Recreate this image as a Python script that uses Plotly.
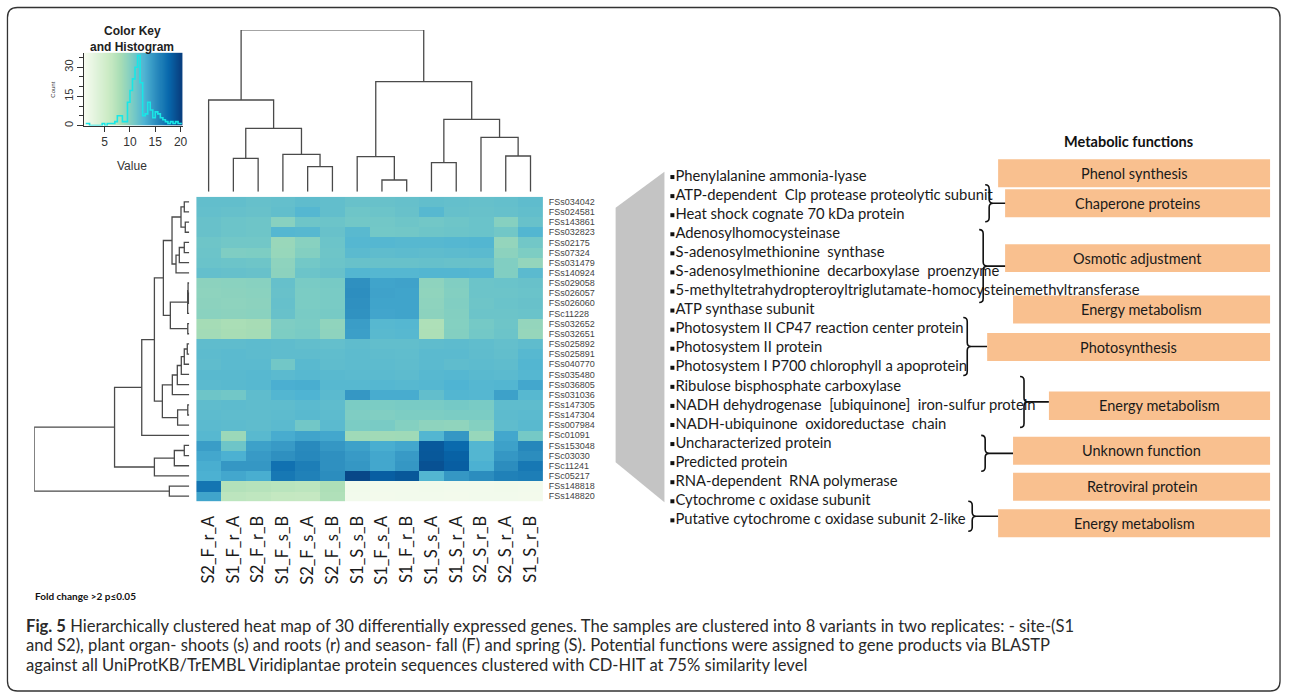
import plotly.graph_objects as go

W, H = 1292, 695

# ---------------- data ----------------
samples = ["S2_F_r_A", "S1_F_r_A", "S2_F_r_B", "S1_F_s_B", "S2_F_s_A", "S2_F_s_B", "S1_S_s_B",
           "S1_F_s_A", "S1_F_r_B", "S1_S_s_A", "S1_S_r_A", "S2_S_r_B", "S2_S_r_A", "S1_S_r_B"]

genes = ["FSs034042", "FSs024581", "FSs143861", "FSs032823", "FSs02175", "FSs07324", "FSs031479",
         "FSs140924", "FSs029058", "FSs026057", "FSs026060", "FSc11228", "FSs032652", "FSs032651",
         "FSs025892", "FSs025891", "FSs040770", "FSs035480", "FSs036805", "FSs031036", "FSs147305",
         "FSs147304", "FSs007984", "FSc01091", "FSs153048", "FSc03030", "FSc11241", "FSc05217",
         "FSs148818", "FSs148820"]

values = [
    [11.8, 11.8, 11.6, 11.7, 12.0, 11.8, 11.5, 11.5, 11.6, 11.8, 11.7, 11.6, 11.7, 12.0],
    [11.7, 11.6, 11.5, 11.8, 12.5, 11.8, 11.2, 11.3, 11.5, 12.4, 11.6, 11.5, 11.6, 11.8],
    [11.5, 11.3, 11.2, 9.8, 11.2, 11.3, 11.0, 11.0, 11.2, 11.0, 11.2, 11.4, 9.9, 11.5],
    [11.5, 11.3, 11.2, 12.5, 12.4, 11.5, 12.3, 10.9, 11.0, 11.2, 11.3, 11.4, 11.0, 12.6],
    [11.2, 11.0, 11.0, 8.9, 9.8, 11.3, 12.5, 12.5, 12.4, 12.4, 12.5, 12.6, 9.2, 11.0],
    [11.3, 10.3, 10.4, 9.0, 10.1, 11.2, 12.2, 12.0, 12.1, 12.0, 12.1, 12.2, 9.6, 10.4],
    [11.4, 11.3, 11.2, 9.5, 10.9, 11.3, 11.5, 11.5, 11.5, 11.6, 11.5, 11.5, 10.2, 9.2],
    [11.7, 11.6, 11.5, 9.6, 11.3, 11.5, 12.6, 12.5, 12.5, 12.6, 12.6, 12.5, 10.2, 12.2],
    [9.6, 9.7, 9.8, 11.6, 10.6, 10.7, 15.0, 13.8, 13.9, 9.5, 10.2, 11.3, 11.4, 11.5],
    [9.5, 9.6, 9.7, 11.5, 10.5, 10.6, 15.1, 13.9, 13.8, 9.4, 10.1, 11.3, 11.3, 11.4],
    [9.6, 9.5, 9.6, 11.6, 10.5, 10.6, 15.0, 13.8, 13.8, 9.5, 10.2, 11.2, 11.4, 11.5],
    [9.7, 9.6, 9.7, 11.5, 10.6, 10.7, 14.9, 13.7, 13.8, 9.6, 10.1, 11.3, 11.3, 11.4],
    [8.3, 8.0, 8.2, 10.3, 10.5, 9.4, 14.2, 12.4, 12.5, 7.7, 10.0, 10.8, 11.2, 9.2],
    [8.4, 8.1, 8.3, 10.4, 10.6, 9.5, 14.1, 12.3, 12.4, 7.8, 10.1, 10.9, 11.3, 9.1],
    [12.0, 12.0, 12.1, 12.0, 11.8, 11.7, 12.0, 11.8, 11.8, 12.0, 12.1, 11.9, 11.7, 12.0],
    [12.1, 12.2, 12.1, 12.0, 12.0, 11.9, 12.1, 12.0, 11.9, 12.2, 12.2, 12.0, 11.8, 12.4],
    [12.0, 12.2, 12.2, 11.0, 12.3, 12.0, 12.1, 12.1, 12.0, 12.2, 12.0, 12.1, 12.0, 12.6],
    [12.3, 12.3, 12.4, 12.2, 12.4, 12.3, 12.2, 12.2, 12.1, 12.4, 12.5, 12.3, 12.2, 12.5],
    [12.2, 12.3, 12.4, 13.1, 13.2, 12.4, 12.4, 12.5, 12.4, 12.5, 12.8, 12.5, 12.6, 13.6],
    [11.2, 11.0, 12.0, 12.6, 12.8, 12.2, 14.6, 13.3, 13.3, 11.8, 12.6, 12.5, 14.0, 12.4],
    [12.0, 12.1, 12.0, 12.0, 12.2, 12.0, 10.5, 10.5, 10.6, 10.6, 10.8, 10.6, 12.0, 12.0],
    [12.1, 12.0, 12.0, 12.1, 12.3, 12.1, 10.3, 10.2, 10.4, 10.4, 10.5, 10.5, 12.1, 12.2],
    [12.2, 12.1, 12.0, 12.2, 11.0, 12.2, 10.5, 10.6, 10.0, 9.5, 9.4, 10.0, 12.0, 12.3],
    [12.4, 8.8, 12.3, 13.3, 13.8, 13.6, 8.6, 8.5, 8.6, 12.6, 14.6, 9.0, 13.6, 10.8],
    [14.2, 11.2, 14.0, 14.4, 15.4, 14.6, 14.0, 13.2, 13.6, 18.5, 17.5, 12.6, 14.0, 15.6],
    [13.6, 13.0, 14.4, 15.0, 15.5, 15.0, 14.4, 13.6, 14.4, 18.6, 18.0, 12.6, 14.6, 15.2],
    [13.2, 14.6, 14.6, 17.0, 16.2, 15.0, 14.6, 13.6, 14.6, 19.0, 18.2, 13.0, 15.2, 16.6],
    [13.0, 13.6, 13.2, 16.6, 16.0, 15.2, 19.6, 18.2, 18.6, 12.6, 14.6, 15.2, 16.0, 16.2],
    [16.8, 7.4, 7.2, 7.0, 6.8, 7.8, 1.6, 1.5, 1.5, 1.6, 1.5, 1.5, 1.6, 1.5],
    [13.8, 6.8, 6.6, 6.3, 6.2, 7.6, 1.5, 1.4, 1.5, 1.5, 1.4, 1.5, 1.5, 1.4],
]

# hclust-style merges: (left, right, height); negative = leaf (1-based), positive = earlier merge
col_merges = [(-5, -6, 25.0), (-8, -9, 11.7), (-13, -14, 35.7), (-10, -11, 29.0), (-2, -3, 33.4),
              (-4, 1, 37.4), (-7, 2, 35.0), (-12, 3, 54.4), (5, 6, 63.4), (4, 8, 72.4),
              (-1, 9, 91.7), (7, 10, 110.0), (11, 12, 161.7)]

row_merges = [(-1, -2, 5.0), (-3, -4, 4.0), (1, 2, 8.3), (-5, -6, 5.0), (4, -7, 10.0), (5, -8, 13.3),
              (3, 6, 17.3), (-10, -11, 0.8), (-9, 8, 1.2), (9, -12, 1.6), (-13, -14, 1.5),
              (10, 11, 19.0), (7, 12, 26.0), (-15, -16, 2.0), (14, -17, 5.0), (15, -18, 8.0),
              (16, -19, 12.0), (17, -20, 17.0), (-21, -22, 1.5), (19, -23, 11.7), (18, 20, 27.0),
              (13, 21, 35.0), (22, -24, 47.7), (-25, -26, 5.0), (24, -27, 15.0), (25, -28, 35.0),
              (23, 26, 75.0), (-29, -30, 20.0), (27, 28, 155.7)]

hist_bins = [1.25, 1.75, 2.25, 2.75, 3.25, 3.75, 4.25, 4.75, 5.25, 5.75, 6.25, 6.75, 7.25, 7.75,
             8.25, 8.75, 9.25, 9.75, 10.25, 10.75, 11.25, 11.75, 12.25, 12.75, 13.25, 13.75, 14.25,
             14.75, 15.25, 15.75, 16.25, 16.75, 17.25, 17.75, 18.25, 18.75, 19.25, 19.75, 20.25]
hist_counts = [1, 1, 0, 0, 0, 0, 0, 1, 0, 1, 1, 1, 2, 5, 5, 2, 2, 12, 18, 24, 30, 36, 22, 5, 6, 12,
               8, 4, 7, 6, 4, 3, 2, 1, 2, 1, 2, 1, 1]

gene_products = [
    "Phenylalanine ammonia-lyase",
    "ATP-dependent  Clp protease proteolytic subunit",
    "Heat shock cognate 70 kDa protein",
    "Adenosylhomocysteinase",
    "S-adenosylmethionine  synthase",
    "S-adenosylmethionine  decarboxylase  proenzyme",
    "5-methyltetrahydropteroyltriglutamate-homocysteinemethyltransferase",
    "ATP synthase subunit",
    "Photosystem II CP47 reaction center protein",
    "Photosystem II protein",
    "Photosystem I P700 chlorophyll a apoprotein",
    "Ribulose bisphosphate carboxylase",
    "NADH dehydrogenase  [ubiquinone]  iron-sulfur protein",
    "NADH-ubiquinone  oxidoreductase  chain",
    "Uncharacterized protein",
    "Predicted protein",
    "RNA-dependent  RNA polymerase",
    "Cytochrome c oxidase subunit",
    "Putative cytochrome c oxidase subunit 2-like",
]

function_labels = ["Phenol synthesis", "Chaperone proteins", "Osmotic adjustment", "Energy metabolism",
                   "Photosynthesis", "Energy metabolism", "Unknown function", "Retroviral protein",
                   "Energy metabolism"]

# ---------------- layout geometry (pixels) ----------------
box_geom = [(1002, 159.5, 187.5), (1009, 189.5, 217.5), (1009, 244.5, 272.5), (1017, 296, 324),
            (991, 333.5, 361.5), (1053, 392, 420.5), (1017, 437.5, 465.5), (1017, 473.5, 501.5),
            (1002, 510, 538)]
box_right = 1275
brace_geom = [(989, 185, 222, 1010), (983, 230, 303, 1010), (967, 318, 376, 991),
              (1024, 377, 428, 1053), (985, 436, 472, 1017), (972, 502, 532, 1002)]

HM_X0, HM_X1, HM_Y0, HM_Y1 = 197, 545, 197, 502
LIST_X, LIST_Y0, LIST_DY = 681, 177.3, 19.1

def fx(x):
    return x / W

def fy(y):
    return 1 - y / H

fig = go.Figure()

# ---- heatmap ----
fig.add_trace(go.Heatmap(z=values, x=samples, y=genes, colorscale="GnBu", zmin=1, zmax=20,
                         showscale=False, xaxis="x", yaxis="y", hoverinfo="x+y+z"))

# ---- dendrograms ----
def dendro(merges):
    nodes = {}
    xs, ys = [], []

    def get(i):
        if i < 0:
            return (-i - 1, 0.0)
        return nodes[i]

    for k, (a, b, h) in enumerate(merges, start=1):
        pa, ha = get(a)
        pb, hb = get(b)
        xs += [pa, pa, pb, pb, None]
        ys += [ha, h, h, hb, None]
        nodes[k] = ((pa + pb) / 2, h)
    return xs, ys

cx, cy = dendro(col_merges)
fig.add_trace(go.Scatter(x=cx, y=cy, mode="lines", line=dict(color="#4a4a4a", width=1.3),
                         xaxis="x2", yaxis="y2", hoverinfo="skip", showlegend=False))
rp, rh = dendro(row_merges)
fig.add_trace(go.Scatter(x=rh, y=rp, mode="lines", line=dict(color="#4a4a4a", width=1.3),
                         xaxis="x3", yaxis="y3", hoverinfo="skip", showlegend=False))

# ---- color key ----
key_x = [0.9 + i * 0.1 for i in range(196)]
fig.add_trace(go.Heatmap(z=[key_x], x=key_x, y=[0, 37.5], colorscale="GnBu", zmin=1, zmax=20,
                         showscale=False, xaxis="x4", yaxis="y4", hoverinfo="skip"))
fig.add_trace(go.Scatter(x=hist_bins, y=hist_counts, mode="lines", line=dict(color="#19e6e6", width=1.6, shape="hvh"),
                         xaxis="x4", yaxis="y4", hoverinfo="skip", showlegend=False))

# ---- gene product list (pixel overlay axis) ----
list_y = [LIST_Y0 + i * LIST_DY for i in range(len(gene_products))]
fig.add_trace(go.Scatter(x=[LIST_X - 6] * len(gene_products), y=list_y, mode="markers",
                         marker=dict(symbol="square", size=4, color="#111"),
                         xaxis="x5", yaxis="y5", hoverinfo="skip", showlegend=False))
fig.add_trace(go.Scatter(x=[LIST_X - 3] * len(gene_products), y=list_y, mode="text", text=gene_products,
                         textposition="middle right",
                         textfont=dict(family="Lato, Open Sans, sans-serif", size=14.8, color="#1a1a1a"),
                         xaxis="x5", yaxis="y5", hoverinfo="skip", showlegend=False))

shapes = []
annotations = []

# outer rounded border
r = 10
x0b, y0b, x1b, y1b = 7.5, 7.5, 1285, 692
shapes.append(dict(type="path", xref="x5", yref="y5", layer="below",
                   path=(f"M {x0b+r},{y0b} L {x1b-r},{y0b} Q {x1b},{y0b} {x1b},{y0b+r} L {x1b},{y1b-r} "
                         f"Q {x1b},{y1b} {x1b-r},{y1b} L {x0b+r},{y1b} Q {x0b},{y1b} {x0b},{y1b-r} "
                         f"L {x0b},{y0b+r} Q {x0b},{y0b} {x0b+r},{y0b} Z"),
                   line=dict(color="#333", width=1.3), fillcolor="rgba(0,0,0,0)"))

# gray trapezoid
shapes.append(dict(type="path", xref="x5", yref="y5", layer="below",
                   path="M 618,208 L 667,172 L 667,503 L 618,463 Z",
                   fillcolor="#c4c4c4", line=dict(width=0)))

# braces
for (bx, by0, by1, tip) in brace_geom:
    d = 8
    ym = (by0 + by1) / 2
    h = d / 2
    p = (f"M {bx},{by0} Q {bx+h},{by0} {bx+h},{by0+h} L {bx+h},{ym-h} Q {bx+h},{ym} {bx+d},{ym} "
         f"Q {bx+h},{ym} {bx+h},{ym+h} L {bx+h},{by1-h} Q {bx+h},{by1} {bx},{by1} "
         f"M {bx+d},{ym} L {tip},{ym}")
    shapes.append(dict(type="path", xref="x5", yref="y5", layer="above", path=p,
                       line=dict(color="#111", width=1.6)))

# function boxes
for lab, (bx0, by0, by1) in zip(function_labels, box_geom):
    shapes.append(dict(type="rect", xref="x5", yref="y5", layer="above", x0=bx0, x1=box_right,
                       y0=by0, y1=by1, fillcolor="#f9c08f", line=dict(width=0)))
    annotations.append(dict(xref="x5", yref="y5", x=(bx0 + box_right) / 2, y=(by0 + by1) / 2,
                            text=lab, showarrow=False, xanchor="center", yanchor="middle",
                            font=dict(family="Lato, Open Sans, sans-serif", size=14.5, color="#1a1a1a")))

annotations.append(dict(xref="x5", yref="y5", x=1133, y=142, text="<b>Metabolic functions</b>",
                        showarrow=False, xanchor="center", yanchor="middle",
                        font=dict(family="Lato, Open Sans, sans-serif", size=14.5, color="#111")))

# color key title and labels
annotations.append(dict(xref="x5", yref="y5", x=133, y=31, text="<b>Color Key</b>", showarrow=False,
                        xanchor="center", yanchor="middle",
                        font=dict(family="Liberation Sans, Arial", size=12, color="#222")))
annotations.append(dict(xref="x5", yref="y5", x=133, y=47, text="<b>and Histogram</b>", showarrow=False,
                        xanchor="center", yanchor="middle",
                        font=dict(family="Liberation Sans, Arial", size=12, color="#222")))
annotations.append(dict(xref="x5", yref="y5", x=53, y=90, text="Count", showarrow=False, textangle=-90,
                        xanchor="center", yanchor="middle",
                        font=dict(family="Liberation Sans, Arial", size=6, color="#333")))
annotations.append(dict(xref="x5", yref="y5", x=133, y=166, text="Value", showarrow=False,
                        xanchor="center", yanchor="middle",
                        font=dict(family="Liberation Sans, Arial", size=12, color="#333")))

annotations.append(dict(xref="x5", yref="y5", x=33, y=597, text="<b>Fold change >2 p≤0.05</b>",
                        showarrow=False, xanchor="left", yanchor="middle",
                        font=dict(family="Lato, Open Sans, sans-serif", size=10, color="#111")))

caption = [
    "<b>Fig. 5</b> Hierarchically clustered heat map of 30 differentially expressed genes. The samples are clustered into 8 variants in two replicates: - site-(S1",
    "and S2), plant organ- shoots (s) and roots (r) and season- fall (F) and spring (S). Potential functions were assigned to gene products via BLASTP",
    "against all UniProtKB/TrEMBL Viridiplantae protein sequences clustered with CD-HIT at 75% similarity level",
]
for i, line in enumerate(caption):
    annotations.append(dict(xref="x5", yref="y5", x=24, y=626.5 + i * 19.5, text=line, showarrow=False,
                            xanchor="left", yanchor="middle",
                            font=dict(family="Lato, Open Sans, sans-serif", size=16.6, color="#2a2a2a")))

hidden = dict(visible=False, showgrid=False, zeroline=False, fixedrange=True)

fig.update_layout(
    width=W, height=H, autosize=False,
    margin=dict(l=0, r=0, t=0, b=0),
    paper_bgcolor="white", plot_bgcolor="rgba(0,0,0,0)",
    showlegend=False,
    xaxis=dict(domain=[fx(HM_X0), fx(HM_X1)], anchor="y", range=[-0.5, 13.5], tickangle=-90,
               tickmode="array", tickvals=samples, ticktext=samples,
               showgrid=False, zeroline=False, showline=False, ticks="outside", ticklen=7,
               tickcolor="rgba(0,0,0,0)",
               tickfont=dict(family="Lato, Open Sans, sans-serif", size=16.5, color="#1a1a1a")),
    yaxis=dict(domain=[fy(HM_Y1), fy(HM_Y0)], anchor="x", side="right", range=[29.5, -0.5],
               tickmode="array", tickvals=genes, ticktext=genes,
               showgrid=False, zeroline=False, showline=False, ticks="outside", ticklen=3,
               tickcolor="rgba(0,0,0,0)",
               tickfont=dict(family="Liberation Sans, Arial", size=9, color="#444")),
    xaxis2=dict(domain=[fx(HM_X0), fx(HM_X1)], anchor="y2", range=[-0.5, 13.5], **hidden),
    yaxis2=dict(domain=[fy(192), fy(30)], anchor="x2", range=[0, 161.7], **hidden),
    xaxis3=dict(domain=[fx(34.3), fx(190)], anchor="y3", range=[155.7, 0], **hidden),
    yaxis3=dict(domain=[fy(HM_Y1), fy(HM_Y0)], anchor="x3", range=[29.5, -0.5], **hidden),
    xaxis4=dict(domain=[fx(84.3), fx(183.3)], anchor="y4", range=[0.9, 20.4], tickvals=[5, 10, 15, 20],
                ticks="outside", ticklen=5, tickcolor="#333", showline=True, linecolor="#333",
                showgrid=False, zeroline=False, fixedrange=True,
                tickfont=dict(family="Liberation Sans, Arial", size=12, color="#333")),
    yaxis4=dict(domain=[fy(125.7), fy(52.7)], anchor="x4", range=[0, 37.5], tickvals=[0, 15, 30],
                tickangle=-90, ticks="outside", ticklen=6, tickcolor="#333", showline=True,
                linecolor="#333", showgrid=False, zeroline=False, fixedrange=True,
                minor=dict(dtick=5, ticks="outside", ticklen=4, tickcolor="#333"),
                tickfont=dict(family="Liberation Sans, Arial", size=11, color="#333")),
    xaxis5=dict(domain=[0, 1], anchor="y5", range=[0, W], **hidden),
    yaxis5=dict(domain=[0, 1], anchor="x5", range=[H, 0], **hidden),
    shapes=shapes,
    annotations=annotations,
)

fig.write_html("out.html")
